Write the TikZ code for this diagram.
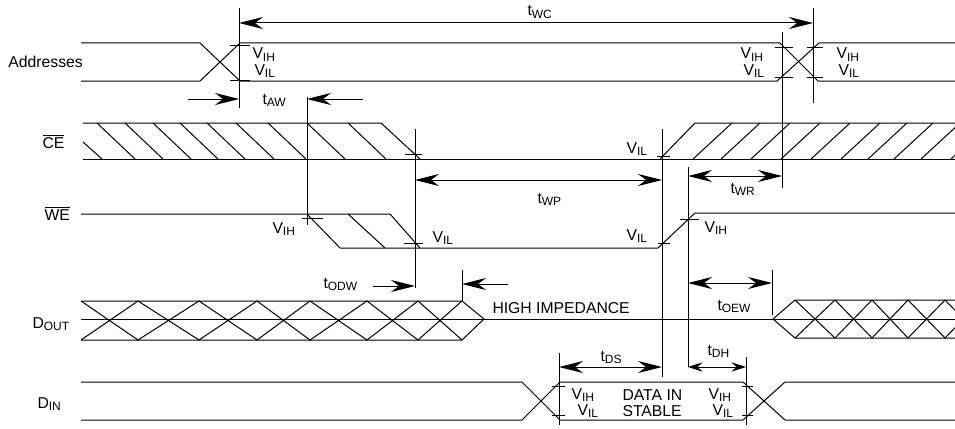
\documentclass[tikz,border=0pt]{standalone}
\usepackage{fontspec}
\setmainfont{Liberation Sans}
\usetikzlibrary{arrows.meta}
\newcommand\sg[2]{#1\raisebox{-2.2pt}{\fontsize{9}{10}\selectfont #2}}
\begin{document}
\begin{tikzpicture}[x=0.75pt,y=-0.75pt,line width=0.75pt,
  arr/.style={-{Stealth[length=18pt,width=9pt,inset=6pt]}},
  darr/.style={{Stealth[length=18pt,width=9pt,inset=6pt]}-{Stealth[length=18pt,width=9pt,inset=6pt]}},
  sarr/.style={{Stealth[length=11pt,width=7pt,inset=4pt]}-{Stealth[length=11pt,width=7pt,inset=4pt]}},
  lbl/.style={inner sep=0pt,anchor=base west,font=\fontsize{11.8}{13}\selectfont}]
\useasboundingbox (0,0) rectangle (955,428);
\begin{scope}
\clip (0,0) rectangle (955,428);
% ---------- Addresses
\draw (81,43) -- (200,43) -- (240,81) -- (777,81) -- (819,43) -- (955,43);
\draw (81,81) -- (200,81) -- (240,43) -- (780,43) -- (818,81) -- (955,81);
\draw (230,46) -- (250,46) (230,80) -- (250,80);
\draw (775,48) -- (793,48) (775,77) -- (793,77) (807,48) -- (823,48) (807,77) -- (823,77);
% verticals
\draw (239,8) -- (239,108);
\draw (813,8) -- (813,103);
\draw (782,32) -- (782,188);
\draw (307,97) -- (307,225);
\draw (415,129) -- (415,288);
\draw (662,129) -- (662,377);
\draw (688,167) -- (688,367);
\draw (462,270) -- (462,301);
\draw (772,270) -- (772,315);
\draw (559,353) -- (559,425);
\draw (746,357) -- (746,425);
% ---------- CE
\draw (83,123) -- (381,123) -- (420,159);
\draw (83,159) -- (955,159);
\draw (660,159) -- (695,123) -- (955,123);
\draw (83,142) -- (102,159);
\foreach \x in {97,125,153,180,207,236,268,307,348} \draw (\x,123) -- ({\x+38},159);
\foreach \x in {732,760,790,820,850,880,907,933,960,990} \draw (\x,123) -- ({\x-39},159);
\draw (405,154) -- (422,154) (657,156) -- (670,156);
% ---------- WE
\draw (81,214) -- (390,214) -- (420,248);
\draw (340,248) -- (658,248) -- (695,213) -- (955,213);
\draw (307,214) -- (340,248) (348,214) -- (385,248);
\draw (302,218) -- (323,218) (404,243) -- (423,243) (658,243) -- (670,243) (680,219) -- (699,219);
% ---------- DOUT
\draw (81,301) -- (462,301) -- (484,319) -- (462,340) -- (81,340);
\draw (81,319) -- (955,319);
\foreach \a/\b in {81/138,138/199,199/257,257/310,310/367,367/418,418/462}
  \draw (\a,301) -- (\b,340) (\a,340) -- (\b,301);
\draw (955,300) -- (795,300) -- (773,319) -- (795,338) -- (955,338);
\foreach \a/\b in {795/835,835/872,872/908,908/945,945/982}
  \draw (\a,300) -- (\b,338) (\a,338) -- (\b,300);
% ---------- DIN
\draw (81,382) -- (522,382) -- (560,420) -- (743,420) -- (785,382) -- (955,382);
\draw (81,420) -- (522,420) -- (560,382) -- (743,382) -- (785,420) -- (955,420);
\draw (552,386) -- (565,386) (552,415) -- (565,415) (742,386) -- (753,386) (742,415) -- (753,415);
\end{scope}
% ---------- dimension arrows
\draw[darr] (239,23) -- (813,23);
\draw[arr] (188,99) -- (239,99);
\draw[arr] (363,99) -- (307,99);
\draw[darr] (415,180) -- (662,180);
\draw[darr] (688,176) -- (782,176);
\draw[arr] (373,286) -- (415,286);
\draw[arr] (508,284) -- (462,284);
\draw[darr] (688,283) -- (772,283);
\draw[darr] (559,367) -- (662,367);
\draw[sarr] (688,367) -- (746,367);
% ---------- labels
\node[lbl] (addr) at (8,67) {Addresses};
\node[lbl] (ce) at (42,148) {$\overline{\mbox{CE}}$};
\node[lbl] (we) at (44,220) {$\overline{\mbox{WE}}$};
\node[lbl] (dout) at (32,328) {\sg{D}{OUT}};
\node[lbl] (din) at (37,408) {\sg{D}{IN}};
\node[lbl] (twc) at (527,16) {\sg{t}{WC}};
\node[lbl] (taw) at (262,104) {\sg{t}{AW}};
\node[lbl] (twp) at (537,203) {\sg{t}{WP}};
\node[lbl] (twr) at (730,193) {\sg{t}{WR}};
\node[lbl] (todw) at (323,288) {\sg{t}{ODW}};
\node[lbl] (toew) at (717,310) {\sg{t}{OEW}};
\node[lbl] (tds) at (600,361) {\sg{t}{DS}};
\node[lbl] (tdh) at (707,355) {\sg{t}{DH}};
\node[lbl] (hiz) at (492,313) {HIGH IMPEDANCE};
\node[lbl] (va1) at (252,59) {\sg{V}{IH}};
\node[lbl] (va2) at (254,75) {\sg{V}{IL}};
\node[lbl] (va3) at (740,59) {\sg{V}{IH}};
\node[lbl] (va4) at (743,75) {\sg{V}{IL}};
\node[lbl] (va5) at (836,59) {\sg{V}{IH}};
\node[lbl] (va6) at (838,75) {\sg{V}{IL}};
\node[lbl] (vc1) at (626,153) {\sg{V}{IL}};
\node[lbl] (vw1) at (272,233) {\sg{V}{IH}};
\node[lbl] (vw2) at (432,242) {\sg{V}{IL}};
\node[lbl] (vw3) at (626,240) {\sg{V}{IL}};
\node[lbl] (vw4) at (704,232) {\sg{V}{IH}};
\node[lbl] (vd1) at (571,399) {\sg{V}{IH}};
\node[lbl] (vd2) at (577,415) {\sg{V}{IL}};
\node[lbl] (vd3) at (708,399) {\sg{V}{IH}};
\node[lbl] (vd4) at (712,415) {\sg{V}{IL}};
\node[lbl] (data) at (622,400) {DATA IN};
\node[lbl] (stab) at (622,416) {STABLE};
\end{tikzpicture}
\end{document}
